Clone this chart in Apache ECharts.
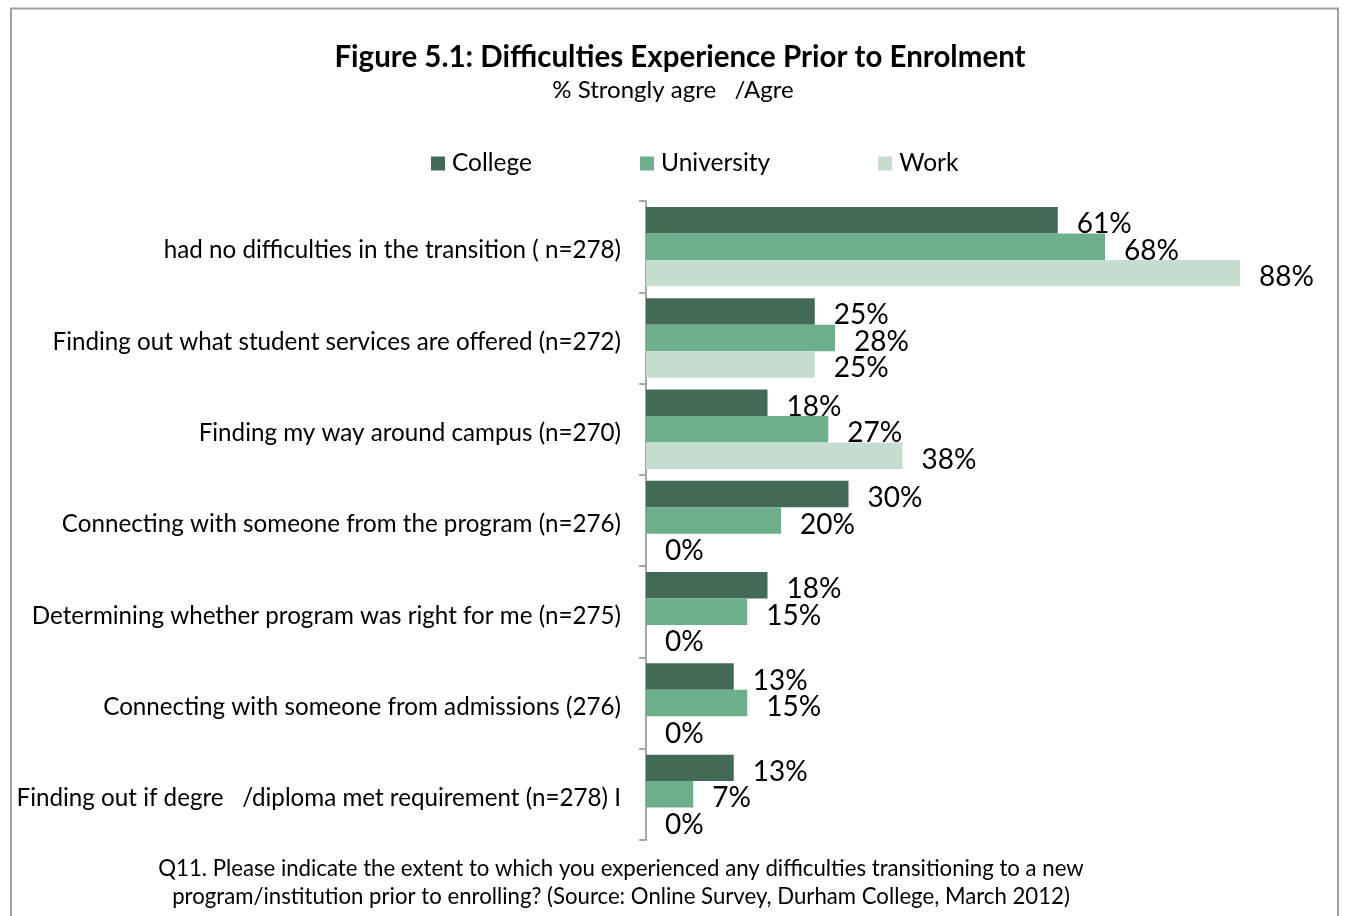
<!DOCTYPE html>
<html>
<head>
<meta charset="utf-8">
<script src="https://cdn.jsdelivr.net/npm/echarts@6/dist/echarts.min.js"></script>
<style>
  html, body { margin: 0; padding: 0; background: #ffffff; }
  #chart { width: 1347px; height: 916px; }
</style>
</head>
<body>
<div id="chart"></div>
<script>
// Survey items (top to bottom)
const categories = [
  'had no difficulties in the transition ( n=278)',
  'Finding out what student services are offered (n=272)',
  'Finding my way around campus (n=270)',
  'Connecting with someone from the program (n=276)',
  'Determining whether program was right for me (n=275)',
  'Connecting with someone from admissions (276)',
  'Finding out if degre   /diploma met requirement (n=278) I'
];

// % strongly agree / agree by prior background
const collegeValues    = [61, 25, 18, 30, 18, 13, 13];
const universityValues = [68, 28, 27, 20, 15, 15, 7];
const workValues       = [88, 25, 38, 0, 0, 0, 0];

const seriesNames = ['College', 'University', 'Work'];
const seriesColors = ['#436a55', '#6daf8b', '#c5ddcf'];

const titleText = 'Figure 5.1: Difficulties Experience Prior to Enrolment';
const subtitleText = '% Strongly agre   /Agre';
const noteLines = [
  'Q11. Please indicate the extent to which you experienced any difficulties transitioning to a new',
  'program/institution prior to enrolling? (Source: Online Survey, Durham College, March 2012)'
];

const FONT = 'Lato, "Open Sans", sans-serif';

const chart = echarts.init(document.getElementById('chart'), null, { renderer: 'canvas' });

function barSeries(name, values, color) {
  return {
    name: name,
    type: 'bar',
    data: values,
    barGap: '0%',
    barCategoryGap: '13%',
    itemStyle: { color: color },
    label: {
      show: true,
      position: 'right',
      distance: 19,
      offset: [0, 4],
      formatter: '{c}%',
      color: '#000000',
      fontFamily: FONT,
      fontSize: 28
    },
    emphasis: { disabled: true },
    animation: false
  };
}

chart.setOption({
  backgroundColor: '#ffffff',
  animation: false,
  title: [
    {
      text: titleText,
      left: 675,
      top: 37,
      textAlign: 'center',
      textStyle: { fontFamily: FONT, fontSize: 29.5, fontWeight: 'bold', color: '#000000' }
    },
    {
      text: subtitleText,
      left: 668,
      top: 73,
      textAlign: 'center',
      textStyle: { fontFamily: FONT, fontSize: 24, fontWeight: 'normal', color: '#000000' }
    }
  ],
  legend: {
    data: seriesNames,
    left: 431,
    top: 151,
    padding: 0,
    itemWidth: 14,
    itemHeight: 14,
    itemGap: 108,
    icon: 'rect',
    textStyle: { fontFamily: FONT, fontSize: 24.5, color: '#000000', padding: [0, 0, 0, 2] },
    selectedMode: false
  },
  grid: {
    left: 646,
    top: 201,
    width: 675,
    height: 639,
    containLabel: false
  },
  xAxis: {
    type: 'value',
    min: 0,
    max: 100,
    show: false
  },
  yAxis: {
    type: 'category',
    data: categories,
    inverse: true,
    axisLine: { show: true, lineStyle: { color: '#a6a6a6', width: 2 } },
    axisTick: { show: true, length: 7, lineStyle: { color: '#a6a6a6', width: 2 } },
    axisLabel: {
      margin: 25,
      formatter: function (value) { return '{c|' + value + '}'; },
      rich: {
        c: {
          color: '#000000',
          fontFamily: FONT,
          fontSize: 24.2,
          padding: [8, 0, 0, 0]
        }
      }
    },
    splitLine: { show: false }
  },
  series: [
    barSeries(seriesNames[0], collegeValues, seriesColors[0]),
    barSeries(seriesNames[1], universityValues, seriesColors[1]),
    barSeries(seriesNames[2], workValues, seriesColors[2])
  ],
  graphic: [
    {
      type: 'rect',
      shape: { x: 11, y: 8.5, width: 1327, height: 930 },
      style: { fill: 'none', stroke: '#a0a0a0', lineWidth: 2 },
      silent: true
    },
    {
      type: 'text',
      x: 621,
      y: 855,
      style: {
        text: noteLines.join('\n'),
        textAlign: 'center',
        textVerticalAlign: 'top',
        fontFamily: FONT,
        fontSize: 22.2,
        lineHeight: 28,
        fill: '#000000'
      },
      silent: true
    }
  ]
});
</script>
</body>
</html>
